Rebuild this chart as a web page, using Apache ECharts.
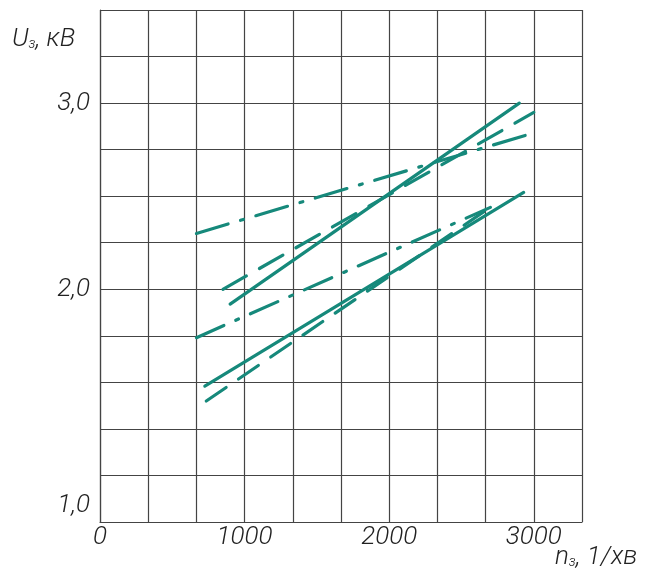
<!DOCTYPE html>
<html>
<head>
<meta charset="utf-8">
<script src="https://cdn.jsdelivr.net/npm/echarts@6/dist/echarts.min.js"></script>
<style>html,body{margin:0;padding:0;background:#fff}#c{width:652px;height:575px}</style>
</head>
<body>
<div id="c"></div>
<script>
// ---- data (n, 1/хв ; U, кВ) ----
const solidUpper   = [[900, 1.92], [2900, 3.00]];
const dashedUpper  = [[850, 2.00], [3000, 2.95]];
const dashDotUpper = [[667, 2.30], [3000, 2.84]];
const solidLower   = [[725, 1.48], [2930, 2.52]];
const dashedLower  = [[735, 1.40], [2680, 2.43]];
const dashDotLower = [[667, 1.74], [2700, 2.44]];

const xTickValues = [0, 1000, 2000, 3000];
const xTickLabels = ['0', '1000', '2000', '3000'];
const yTickValues = [3.0, 2.0, 0.75];
const yTickLabels = ['3,0', '2,0', '1,0'];
const yTitle = ['U', 'з', ', кВ'];
const xTitle = ['n', 'з', ', 1/хв'];

const teal = '#16897b';
const gridColor = '#444444';
const textColor = '#222222';
const font = "Roboto,'DejaVu Sans Condensed',sans-serif";
const fs = 26;

const chart = echarts.init(document.getElementById('c'));
function line(data, type) {
  return {
    type: 'line', data: data, symbol: 'none', silent: true,
    lineStyle: { color: teal, width: 3.2, type: type, cap: 'round' }
  };
}
const txt = { fontSize: fs, fontStyle: 'italic', fontWeight: 300, color: textColor, fontFamily: font };
chart.setOption({
  animation: false,
  backgroundColor: '#fff',
  grid: { left: 100, right: 70, top: 10, bottom: 53 },
  xAxis: {
    type: 'value', min: 0, max: 10000 / 3, interval: 1000 / 3,
    axisLine: { lineStyle: { color: gridColor, width: 1.2 } },
    axisTick: { show: false },
    splitLine: { lineStyle: { color: gridColor, width: 1.2 } },
    axisLabel: Object.assign({
      margin: 2, showMaxLabel: true, showMinLabel: true,
      formatter: function (v) {
        for (let i = 0; i < xTickValues.length; i++) if (Math.abs(v - xTickValues[i]) < 1) return xTickLabels[i];
        return '';
      }
    }, txt)
  },
  yAxis: {
    type: 'value', min: 0.75, max: 3.5, interval: 0.25,
    axisLine: { show: true, lineStyle: { color: gridColor, width: 1.2 } },
    axisTick: { show: false },
    splitLine: { lineStyle: { color: gridColor, width: 1.2 } },
    axisLabel: Object.assign({
      margin: 10, showMinLabel: true,
      formatter: function (v) {
        for (let i = 0; i < yTickValues.length; i++) if (Math.abs(v - yTickValues[i]) < 1e-6) {
          return i === yTickValues.length - 1 ? '{low|' + yTickLabels[i] + '}' : yTickLabels[i];
        }
        return '';
      },
      rich: { low: Object.assign({ padding: [0, 0, 34, 0] }, txt) }
    }, txt)
  },
  graphic: [
    { type: 'text', left: 12, top: 26, style: {
      text: '{a|' + yTitle[0] + '}{s|' + yTitle[1] + '}{a|' + yTitle[2] + '}',
      rich: { a: { fontSize: fs, fontStyle: 'italic', fontWeight: 300, fill: textColor, fontFamily: font },
              s: { fontSize: 14, fontStyle: 'italic', fontWeight: 300, fill: textColor, fontFamily: font, padding: [10, 0, 0, 0] } } } },
    { type: 'text', left: 555, top: 544, style: {
      text: '{a|' + xTitle[0] + '}{s|' + xTitle[1] + '}{a|' + xTitle[2] + '}',
      rich: { a: { fontSize: fs, fontStyle: 'italic', fontWeight: 300, fill: textColor, fontFamily: font },
              s: { fontSize: 14, fontStyle: 'italic', fontWeight: 300, fill: textColor, fontFamily: font, padding: [10, 0, 0, 0] } } } }
  ],
  series: [
    line(solidUpper, 'solid'),
    line(dashedUpper, [27, 15]),
    line(dashDotUpper, [33, 13, 3, 13]),
    line(solidLower, 'solid'),
    line(dashedLower, [24, 15]),
    line(dashDotLower, [30, 13, 3, 13])
  ]
});
</script>
</body>
</html>
